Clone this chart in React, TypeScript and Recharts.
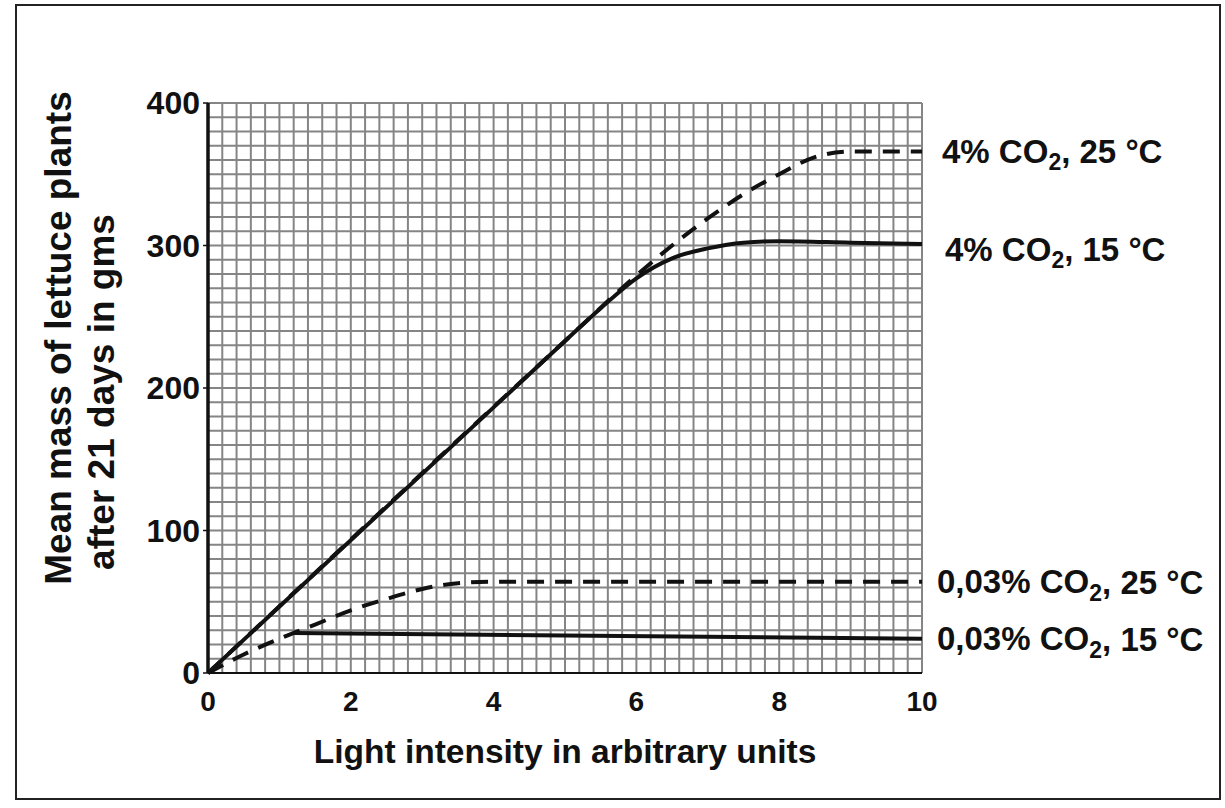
import React from "react";
import { LineChart, Line, XAxis, YAxis, CartesianGrid } from "recharts";

const FONT = '"Liberation Sans", Arial, Helvetica, sans-serif';

// axis ticks
const xTicks = [0, 2, 4, 6, 8, 10];
const yTicks = [0, 100, 200, 300, 400];

// 4% CO2, 25 °C
const highCo2Warm_x = [0, 5, 6, 6.5, 7, 7.5, 8, 8.5, 9, 10];
const highCo2Warm_y = [0, 233, 279, 300, 319, 336, 350, 362, 366, 366];

// 4% CO2, 15 °C
const highCo2Cool_x = [0, 5, 5.5, 6, 6.5, 7, 7.5, 8, 9, 10];
const highCo2Cool_y = [0, 233, 256, 277, 291, 298, 302, 303, 302, 301];

// 0,03% CO2, 25 °C
const lowCo2Warm_x = [0, 0.5, 1, 1.5, 2, 2.5, 3, 3.5, 4, 10];
const lowCo2Warm_y = [0, 13, 24, 34, 44, 52, 59, 63, 64, 64];

// 0,03% CO2, 15 °C
const lowCo2Cool_x = [1.2, 10];
const lowCo2Cool_y = [28, 24];

// graph paper: one square = 0.2 units across, 10 g up
const gridX = Array.from({ length: 51 }, (_, i) => Math.round(i * 2) / 10);
const gridY = Array.from({ length: 41 }, (_, i) => i * 10);

function zip(xs: number[], ys: number[]) {
  return xs.map((x, i) => ({ x, y: ys[i] }));
}

function endLabel(pct: string, temp: string, count: number, dx: number, dy: number) {
  return (props: any) => {
    if (props.index !== count - 1) return null;
    return (
      <text
        x={props.x + dx}
        y={props.y + dy}
        dominantBaseline="central"
        fontFamily={FONT}
        fontWeight="bold"
        fontSize={33}
        fill="#111"
      >
        {pct + " CO"}
        <tspan dy={11} fontSize={23}>2</tspan>
        <tspan dy={-11}>{", " + temp + " °C"}</tspan>
      </text>
    );
  };
}

function YTitle() {
  const style = { fontFamily: FONT, fontWeight: "bold" as const, fontSize: 37, fill: "#111" };
  return (
    <g>
      <text x={58} y={338} transform="rotate(-90 58 338)" textAnchor="middle" dominantBaseline="central" {...style}>
        Mean mass of lettuce plants
      </text>
      <text x={101} y={392} transform="rotate(-90 101 392)" textAnchor="middle" dominantBaseline="central" {...style}>
        after 21 days in gms
      </text>
    </g>
  );
}

export default function App() {
  const series = [
    { key: "hw", data: zip(highCo2Warm_x, highCo2Warm_y), dash: "17 11", type: "monotone", pct: "4%", temp: "25", dx: 20, dy: 0 },
    { key: "lw", data: zip(lowCo2Warm_x, lowCo2Warm_y), dash: "17 11", type: "monotone", pct: "0,03%", temp: "25", dx: 15, dy: 0 },
    { key: "hc", data: zip(highCo2Cool_x, highCo2Cool_y), dash: undefined, type: "monotone", pct: "4%", temp: "15", dx: 23, dy: 5 },
    { key: "lc", data: zip(lowCo2Cool_x, lowCo2Cool_y), dash: undefined, type: "linear", pct: "0,03%", temp: "15", dx: 15, dy: 0 },
  ];

  return (
    <div style={{ position: "absolute", left: 0, top: 0, width: 1225, height: 808, background: "#fff" }}>
      <div
        style={{
          position: "absolute",
          left: 15,
          top: 4,
          width: 1206,
          height: 796,
          border: "2px solid #222",
          boxSizing: "border-box",
        }}
      />
      <div style={{ position: "absolute", left: 0, top: 0 }}>
        <LineChart width={1225} height={808} margin={{ top: 103, right: 303, bottom: 35, left: 128 }}>
          <CartesianGrid
            stroke="#858585"
            strokeWidth={2}
            horizontalValues={gridY}
            verticalValues={gridX}
          />
          <XAxis
            type="number"
            dataKey="x"
            domain={[0, 10]}
            ticks={xTicks}
            interval={0}
            allowDuplicatedCategory={false}
            height={100}
            tickLine={false}
            tickMargin={12}
            axisLine={{ stroke: "#111", strokeWidth: 2 }}
            tick={{ fill: "#111", fontSize: 28, fontWeight: "bold", fontFamily: FONT }}
            label={{
              value: "Light intensity in arbitrary units",
              position: "bottom",
              offset: -34,
              fill: "#111",
              fontSize: 33.5,
              fontWeight: "bold",
              fontFamily: FONT,
            }}
          />
          <YAxis
            type="number"
            domain={[0, 400]}
            ticks={yTicks}
            interval={0}
            width={80}
            tickSize={5}
            tickMargin={3}
            tickLine={{ stroke: "#111", strokeWidth: 1.5 }}
            axisLine={{ stroke: "#111", strokeWidth: 3.5 }}
            tick={{ fill: "#111", fontSize: 32, fontWeight: "bold", fontFamily: FONT }}
            label={<YTitle />}
          />
          {series.map((s) => (
            <Line
              key={s.key}
              data={s.data}
              dataKey="y"
              type={s.type as any}
              stroke="#111"
              strokeWidth={4}
              strokeDasharray={s.dash}
              dot={false}
              activeDot={false}
              isAnimationActive={false}
              label={endLabel(s.pct, s.temp, s.data.length, s.dx, s.dy)}
            />
          ))}
        </LineChart>
      </div>
    </div>
  );
}
